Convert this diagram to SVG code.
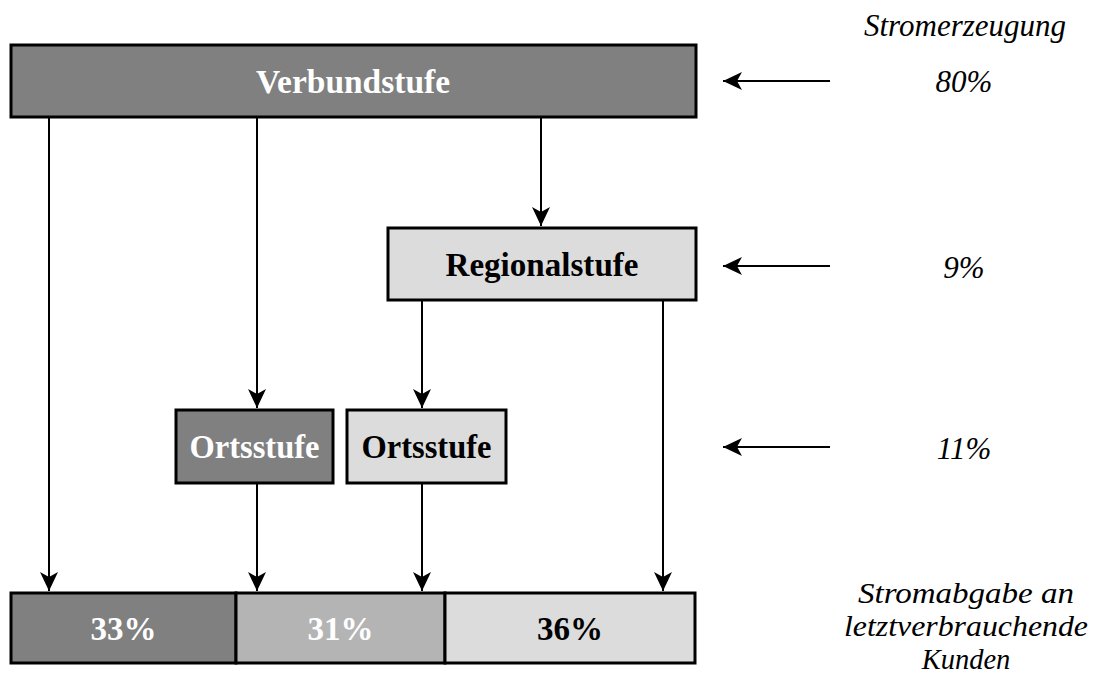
<svg xmlns="http://www.w3.org/2000/svg" width="1105" height="677" viewBox="0 0 1105 677">
  <style>
    .box { stroke: #000; stroke-width: 3; }
    .dark { fill: #808080; }
    .mid { fill: #b4b4b4; }
    .light { fill: #dcdcdc; }
    .lbl { font-family: "Liberation Serif", "Times New Roman", serif; font-weight: bold; font-size: 34px; text-anchor: middle; }
    .note { font-family: "Liberation Serif", "Times New Roman", serif; font-style: italic; font-size: 31px; text-anchor: middle; fill: #000; }
    .small { font-size: 28.5px; }
    .w { fill: #fff; }
    .k { fill: #000; }
    .edge { stroke: #000; stroke-width: 2; fill: none; marker-end: url(#head); }
  </style>
  <defs>
    <marker id="head" viewBox="0 0 20 20" refX="19" refY="10" markerWidth="20" markerHeight="20" markerUnits="userSpaceOnUse" orient="auto">
      <path d="M0,1 L19,10 L0,19 L5,10 Z" fill="#000"/>
    </marker>
  </defs>

  <rect width="1105" height="677" fill="#fff"/>

  <!-- supply levels -->
  <g id="verbundstufe">
    <rect class="box dark" x="11" y="45" width="685" height="72"/>
    <text class="lbl w" x="353" y="93" textLength="194" lengthAdjust="spacingAndGlyphs">Verbundstufe</text>
  </g>
  <g id="regionalstufe">
    <rect class="box light" x="388" y="228" width="308" height="72"/>
    <text class="lbl k" x="542" y="276" textLength="193" lengthAdjust="spacingAndGlyphs">Regionalstufe</text>
  </g>
  <g id="ortsstufe-1">
    <rect class="box dark" x="176" y="410" width="157" height="73"/>
    <text class="lbl w" x="254.5" y="458" textLength="130" lengthAdjust="spacingAndGlyphs">Ortsstufe</text>
  </g>
  <g id="ortsstufe-2">
    <rect class="box light" x="347" y="410" width="159" height="73"/>
    <text class="lbl k" x="426.5" y="458" textLength="130" lengthAdjust="spacingAndGlyphs">Ortsstufe</text>
  </g>

  <!-- end-customer share bar -->
  <g id="abgabe-33">
    <rect class="box dark" x="11" y="593" width="225" height="70"/>
    <text class="lbl w" x="123.5" y="640" textLength="66" lengthAdjust="spacingAndGlyphs">33%</text>
  </g>
  <g id="abgabe-31">
    <rect class="box mid" x="236" y="593" width="209" height="70"/>
    <text class="lbl w" x="340.5" y="640" textLength="66" lengthAdjust="spacingAndGlyphs">31%</text>
  </g>
  <g id="abgabe-36">
    <rect class="box light" x="445" y="593" width="250" height="70"/>
    <text class="lbl k" x="570" y="640" textLength="66" lengthAdjust="spacingAndGlyphs">36%</text>
  </g>

  <!-- generation shares -->
  <g id="legend">
    <text class="note" x="965" y="36">Stromerzeugung</text>
    <text class="note" x="964" y="92">80%</text>
    <text class="note" x="964" y="278">9%</text>
    <text class="note" x="964" y="459">11%</text>
    <text class="note small" x="966" y="603" textLength="216" lengthAdjust="spacingAndGlyphs">Stromabgabe an</text>
    <text class="note small" x="966" y="636" textLength="244" lengthAdjust="spacingAndGlyphs">letztverbrauchende</text>
    <text class="note small" x="966" y="669">Kunden</text>
  </g>

  <g id="connectors">
    <path class="edge" d="M49,117 V591"/>
    <path class="edge" d="M257,117 V408"/>
    <path class="edge" d="M541,117 V226"/>
    <path class="edge" d="M422,300 V408"/>
    <path class="edge" d="M663,300 V591"/>
    <path class="edge" d="M257,483 V591"/>
    <path class="edge" d="M422,483 V591"/>
    <path class="edge" d="M830,81 H723"/>
    <path class="edge" d="M830,266 H723"/>
    <path class="edge" d="M830,447 H723"/>
  </g>
</svg>
